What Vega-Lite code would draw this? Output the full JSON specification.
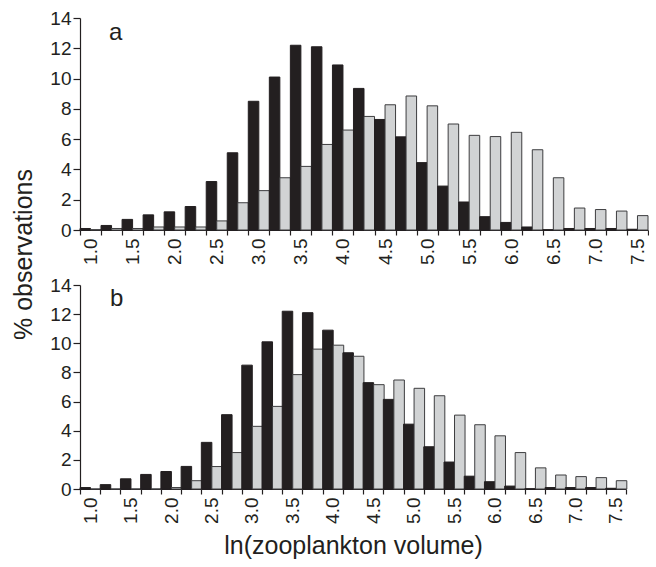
{
  "$schema": "https://vega.github.io/schema/vega-lite/v6.json",
  "padding": {"left": 11, "top": 9, "right": 0, "bottom": 0},
  "background": "white",
  "config": {
    "view": {"stroke": null},
    "font": "Liberation Sans",
    "axis": {"domainColor": "#231f20", "tickColor": "#231f20", "labelColor": "#231f20", "titleColor": "#231f20", "grid": false, "labelFont": "Liberation Sans", "titleFont": "Liberation Sans", "labelFontSize": 19, "titleFontSize": 25, "titleFontWeight": "normal", "domainWidth": 1.2, "tickWidth": 1.2, "labelOverlap": false}
  },
  "data": {"values": [
    {"p":"a","bin":"1.0","black":0.1,"gray":0.02},
    {"p":"a","bin":"1.25","black":0.3,"gray":0.1},
    {"p":"a","bin":"1.5","black":0.7,"gray":0.1},
    {"p":"a","bin":"1.75","black":1.0,"gray":0.2},
    {"p":"a","bin":"2.0","black":1.2,"gray":0.2},
    {"p":"a","bin":"2.25","black":1.55,"gray":0.2},
    {"p":"a","bin":"2.5","black":3.2,"gray":0.6},
    {"p":"a","bin":"2.75","black":5.1,"gray":1.8},
    {"p":"a","bin":"3.0","black":8.5,"gray":2.6},
    {"p":"a","bin":"3.25","black":10.1,"gray":3.45},
    {"p":"a","bin":"3.5","black":12.2,"gray":4.2},
    {"p":"a","bin":"3.75","black":12.1,"gray":5.65},
    {"p":"a","bin":"4.0","black":10.9,"gray":6.6},
    {"p":"a","bin":"4.25","black":9.35,"gray":7.5},
    {"p":"a","bin":"4.5","black":7.3,"gray":8.27},
    {"p":"a","bin":"4.75","black":6.15,"gray":8.85},
    {"p":"a","bin":"5.0","black":4.45,"gray":8.2},
    {"p":"a","bin":"5.25","black":2.9,"gray":7.0},
    {"p":"a","bin":"5.5","black":1.85,"gray":6.25},
    {"p":"a","bin":"5.75","black":0.88,"gray":6.17},
    {"p":"a","bin":"6.0","black":0.5,"gray":6.45},
    {"p":"a","bin":"6.25","black":0.2,"gray":5.3},
    {"p":"a","bin":"6.5","black":0.02,"gray":3.45},
    {"p":"a","bin":"6.75","black":0.1,"gray":1.45},
    {"p":"a","bin":"7.0","black":0.1,"gray":1.35},
    {"p":"a","bin":"7.25","black":0.1,"gray":1.25},
    {"p":"a","bin":"7.5","black":0.05,"gray":0.95},
    {"p":"b","bin":"1.0","black":0.1,"gray":0},
    {"p":"b","bin":"1.25","black":0.3,"gray":0},
    {"p":"b","bin":"1.5","black":0.7,"gray":0},
    {"p":"b","bin":"1.75","black":1.0,"gray":0},
    {"p":"b","bin":"2.0","black":1.2,"gray":0.1},
    {"p":"b","bin":"2.25","black":1.55,"gray":0.57},
    {"p":"b","bin":"2.5","black":3.2,"gray":1.54},
    {"p":"b","bin":"2.75","black":5.1,"gray":2.5},
    {"p":"b","bin":"3.0","black":8.5,"gray":4.3},
    {"p":"b","bin":"3.25","black":10.1,"gray":5.67},
    {"p":"b","bin":"3.5","black":12.2,"gray":7.85},
    {"p":"b","bin":"3.75","black":12.1,"gray":9.6},
    {"p":"b","bin":"4.0","black":10.9,"gray":9.87},
    {"p":"b","bin":"4.25","black":9.35,"gray":9.11},
    {"p":"b","bin":"4.5","black":7.3,"gray":7.16},
    {"p":"b","bin":"4.75","black":6.15,"gray":7.48},
    {"p":"b","bin":"5.0","black":4.45,"gray":6.91},
    {"p":"b","bin":"5.25","black":2.9,"gray":6.4},
    {"p":"b","bin":"5.5","black":1.85,"gray":5.07},
    {"p":"b","bin":"5.75","black":0.88,"gray":4.41},
    {"p":"b","bin":"6.0","black":0.5,"gray":3.65},
    {"p":"b","bin":"6.25","black":0.2,"gray":2.5},
    {"p":"b","bin":"6.5","black":0.02,"gray":1.45},
    {"p":"b","bin":"6.75","black":0.1,"gray":0.96},
    {"p":"b","bin":"7.0","black":0.1,"gray":0.85},
    {"p":"b","bin":"7.25","black":0.1,"gray":0.78},
    {"p":"b","bin":"7.5","black":0.05,"gray":0.57}
  ]},
  "spacing": 55,
  "bounds": "flush",
  "vconcat": [
    {
      "width": 568,
      "height": 212,
      "layer": [
        {
          "transform": [{"filter": "datum.p == 'a'"}, {"fold": ["black", "gray"], "as": ["s", "v"]}],
          "mark": {"type": "bar", "strokeWidth": 1},
          "encoding": {
            "x": {"field": "bin", "type": "ordinal", "sort": null, "scale": {"paddingInner": 0, "paddingOuter": 0},
                  "axis": {"title": null, "labelAngle": -90, "tickBand": "extent", "tickSize": 5, "labelPadding": 3, "labelExpr": "length(datum.label) == 3 ? datum.label : ''"}},
            "xOffset": {"field": "s", "type": "nominal", "scale": {"domain": ["black", "gray"], "paddingInner": 0, "paddingOuter": 0}},
            "y": {"field": "v", "type": "quantitative", "scale": {"domain": [0, 14], "nice": false},
                  "axis": {"values": [0, 2, 4, 6, 8, 10, 12, 14], "labelOverlap": false, "title": "% observations", "titleX": -57, "titleY": 236, "titleAngle": -90, "titleAlign": "center", "titleBaseline": "middle", "tickSize": 7, "labelPadding": 2}},
            "color": {"field": "s", "type": "nominal", "scale": {"domain": ["black", "gray"], "range": ["#231f20", "#d1d3d4"]}, "legend": null},
            "stroke": {"field": "s", "type": "nominal", "scale": {"domain": ["black", "gray"], "range": ["#231f20", "#3d3d3f"]}, "legend": null}
          }
        },
        {
          "data": {"values": [{"t": "a"}]},
          "mark": {"type": "text", "fontSize": 24, "align": "center", "baseline": "alphabetic", "dx": -17, "color": "#231f20", "font": "Liberation Sans"},
          "encoding": {
            "x": {"datum": "1.5", "type": "ordinal",
                  "axis": {"title": null, "labelAngle": -90, "tickBand": "extent", "tickSize": 5, "labelPadding": 3, "labelExpr": "length(datum.label) == 3 ? datum.label : ''"}},
            "y": {"datum": 12.55, "type": "quantitative",
                  "axis": {"values": [0, 2, 4, 6, 8, 10, 12, 14], "labelOverlap": false, "title": "% observations", "titleX": -57, "titleY": 236, "titleAngle": -90, "titleAlign": "center", "titleBaseline": "middle", "tickSize": 7, "labelPadding": 2}},
            "text": {"field": "t", "type": "nominal"}
          }
        }
      ]
    },
    {
      "width": 546,
      "height": 204,
      "layer": [
        {
          "transform": [{"filter": "datum.p == 'b'"}, {"fold": ["black", "gray"], "as": ["s", "v"]}],
          "mark": {"type": "bar", "strokeWidth": 1},
          "encoding": {
            "x": {"field": "bin", "type": "ordinal", "sort": null, "scale": {"paddingInner": 0, "paddingOuter": 0},
                  "axis": {"title": "ln(zooplankton volume)", "titlePadding": 10, "labelAngle": -90, "tickBand": "extent", "tickSize": 5, "labelPadding": 3, "labelExpr": "length(datum.label) == 3 ? datum.label : ''"}},
            "xOffset": {"field": "s", "type": "nominal", "scale": {"domain": ["black", "gray"], "paddingInner": 0, "paddingOuter": 0}},
            "y": {"field": "v", "type": "quantitative", "scale": {"domain": [0, 14], "nice": false},
                  "axis": {"values": [0, 2, 4, 6, 8, 10, 12, 14], "labelOverlap": false, "title": null, "tickSize": 7, "labelPadding": 2}},
            "color": {"field": "s", "type": "nominal", "scale": {"domain": ["black", "gray"], "range": ["#231f20", "#d1d3d4"]}, "legend": null},
            "stroke": {"field": "s", "type": "nominal", "scale": {"domain": ["black", "gray"], "range": ["#231f20", "#3d3d3f"]}, "legend": null}
          }
        },
        {
          "data": {"values": [{"t": "b"}]},
          "mark": {"type": "text", "fontSize": 24, "align": "center", "baseline": "alphabetic", "dx": -14, "color": "#231f20", "font": "Liberation Sans"},
          "encoding": {
            "x": {"datum": "1.5", "type": "ordinal",
                  "axis": {"title": "ln(zooplankton volume)", "titlePadding": 10, "labelAngle": -90, "tickBand": "extent", "tickSize": 5, "labelPadding": 3, "labelExpr": "length(datum.label) == 3 ? datum.label : ''"}},
            "y": {"datum": 12.55, "type": "quantitative",
                  "axis": {"values": [0, 2, 4, 6, 8, 10, 12, 14], "labelOverlap": false, "title": null, "tickSize": 7, "labelPadding": 2}},
            "text": {"field": "t", "type": "nominal"}
          }
        }
      ]
    }
  ]
}
